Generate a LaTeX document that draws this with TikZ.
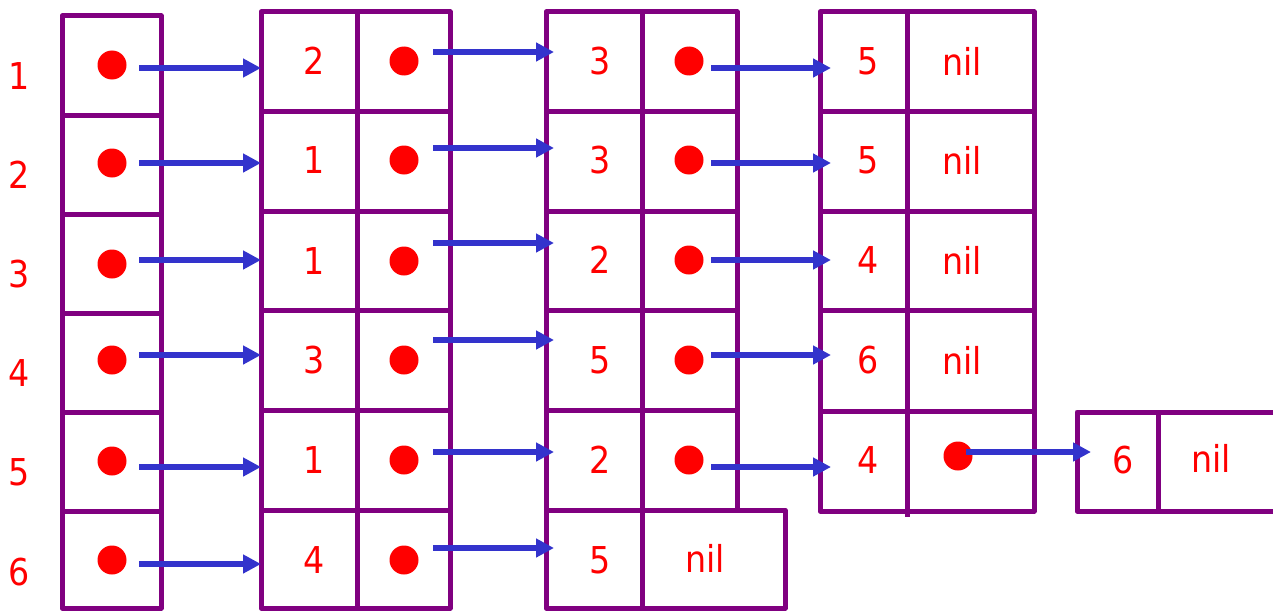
\documentclass[tikz,border=0pt]{standalone}
\usepackage{fontspec}
\setmainfont[FakeStretch=0.9]{DejaVu Sans}
\usetikzlibrary{arrows.meta}
\definecolor{boxpurple}{HTML}{800080}
\definecolor{arrblue}{HTML}{3333CC}
\definecolor{txtred}{HTML}{FF0000}
\newcommand\mycell[5]{% name, x1, y1, x2, y2
  \node[cell, minimum width={(#4-#2)*1pt}, minimum height={(#5-#3)*1pt}] (#1) at ({(#2+#4)/2},{(#3+#5)/2}) {};}
\begin{document}
\begin{tikzpicture}[x=1pt,y=-1pt,
  cell/.style={draw=boxpurple, line width=5pt, line join=round, inner sep=0pt, outer sep=0pt},
  dot/.style={circle, fill=txtred, minimum size=29pt, inner sep=0pt},
  lbl/.style={text=txtred, font=\fontsize{37}{40}\selectfont, inner sep=0pt},
  ptr/.style={draw=arrblue, line width=5.5pt, -{Triangle[length=18pt,width=18pt]}}]
\useasboundingbox (0,0) rectangle (1273,610);

% head array
\mycell{h1}{62}{16}{161}{115}
\mycell{h2}{62}{115}{161}{214}
\mycell{h3}{62}{214}{161}{313}
\mycell{h4}{62}{313}{161}{412}
\mycell{h5}{62}{412}{161}{511}
\mycell{h6}{62}{511}{161}{608}

% column 1
\mycell{a1k}{261}{12}{357}{111.6}   \mycell{a1p}{357}{12}{450}{111.6}
\mycell{a2k}{261}{111.6}{357}{211.2} \mycell{a2p}{357}{111.6}{450}{211.2}
\mycell{a3k}{261}{211.2}{357}{310.8} \mycell{a3p}{357}{211.2}{450}{310.8}
\mycell{a4k}{261}{310.8}{357}{410.4} \mycell{a4p}{357}{310.8}{450}{410.4}
\mycell{a5k}{261}{410.4}{357}{510}   \mycell{a5p}{357}{410.4}{450}{510}
\mycell{a6k}{261}{510}{357}{608}     \mycell{a6p}{357}{510}{450}{608}

% column 2
\mycell{b1k}{546}{12}{642}{111.6}   \mycell{b1p}{642}{12}{737}{111.6}
\mycell{b2k}{546}{111.6}{642}{211.2} \mycell{b2p}{642}{111.6}{737}{211.2}
\mycell{b3k}{546}{211.2}{642}{310.8} \mycell{b3p}{642}{211.2}{737}{310.8}
\mycell{b4k}{546}{310.8}{642}{410.4} \mycell{b4p}{642}{310.8}{737}{410.4}
\mycell{b5k}{546}{410.4}{642}{510}   \mycell{b5p}{642}{410.4}{737}{510}
\mycell{b6k}{546}{510}{642}{608}     \mycell{b6p}{642}{510}{785}{608}

% column 3
\mycell{c1k}{820}{12}{907}{111.6}   \mycell{c1p}{907}{12}{1034}{111.6}
\mycell{c2k}{820}{111.6}{907}{211.2} \mycell{c2p}{907}{111.6}{1034}{211.2}
\mycell{c3k}{820}{211.2}{907}{310.8} \mycell{c3p}{907}{211.2}{1034}{310.8}
\mycell{c4k}{820}{310.8}{907}{411}   \mycell{c4p}{907}{310.8}{1034}{411}
\mycell{c5k}{820}{411}{907}{511}     \mycell{c5p}{907}{411}{1034}{511}
\draw[boxpurple, line width=5pt] (c5k.south east) -- ++(0,6);

% extra node
\mycell{e5k}{1077}{412}{1158}{511}   \mycell{e5p}{1158}{412}{1300}{511}

% row labels
\foreach \i/\y in {1/76,2/175,3/274,4/373,5/472,6/572}
  \node[lbl] (r\i) at (19,\y) {\i};

% dots
\foreach \i/\y in {1/65,2/163,3/264,4/360,5/461,6/560}
  \node[dot] (dh\i) at (112,\y) {};
\foreach \i/\y in {1/61,2/160,3/261,4/360,5/460,6/560}
  \node[dot] (da\i) at (404,\y) {};
\foreach \i/\y in {1/61,2/160,3/260,4/360,5/460}
  \node[dot] (db\i) at (689,\y) {};
\node[dot] (dc5) at (958,456) {};

% key labels
\foreach \i/\y/\t in {1/61/2,2/160/1,3/261/1,4/360/3,5/460/1,6/560/4}
  \node[lbl] (ta\i) at (314,\y) {\t};
\foreach \i/\y/\t in {1/61/3,2/160/3,3/260/2,4/360/5,5/460/2,6/560/5}
  \node[lbl] (tb\i) at (600,\y) {\t};
\foreach \i/\y/\t in {1/61/5,2/160/5,3/260/4,4/360/6,5/460/4}
  \node[lbl] (tc\i) at (868,\y) {\t};
\foreach \i/\y in {1/61,2/160,3/260,4/360}
  \node[lbl] (nc\i) at (962,\y) {nil};
\node[lbl] (nb6) at (705,558) {nil};
\node[lbl] (te5) at (1123,460) {6};
\node[lbl] (ne5) at (1211,458) {nil};

% arrows head -> column 1
\foreach \i/\y in {1/68,2/163,3/260,4/355,5/467,6/564}{
  \coordinate (sA\i) at (139,\y);
  \draw[ptr] (sA\i) -- (sA\i -| a\i k.west);
}
% arrows column 1 -> column 2
\foreach \i/\y in {1/52,2/148,3/243,4/340,5/452,6/548}{
  \coordinate (sB\i) at (433,\y);
  \draw[ptr, shorten >=-8pt] (sB\i) -- (sB\i -| b\i k.west);
}
% arrows column 2 -> column 3
\foreach \i/\y in {1/68,2/163,3/260,4/355,5/467}{
  \coordinate (sC\i) at (711,\y);
  \draw[ptr, shorten >=-11pt] (sC\i) -- (sC\i -| c\i k.west);
}
% arrow column 3 -> extra
\coordinate (sD5) at (966,452);
\draw[ptr, shorten >=-14pt] (sD5) -- (sD5 -| e5k.west);
\end{tikzpicture}
\end{document}
